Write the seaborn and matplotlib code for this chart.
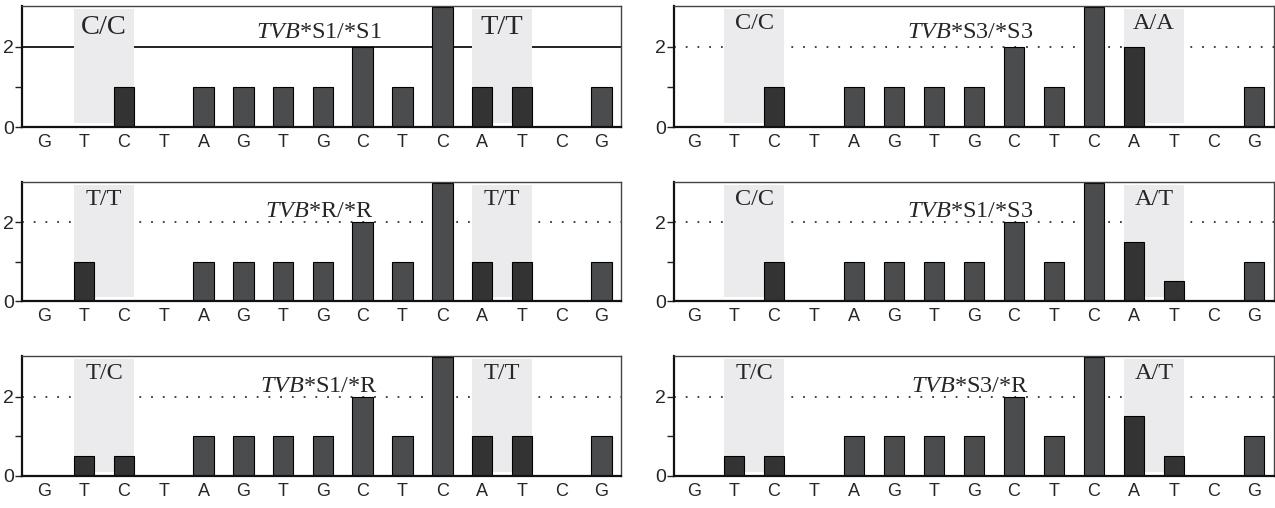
import matplotlib
matplotlib.use("Agg")
import matplotlib.pyplot as plt
import seaborn as sns
import pandas as pd

# ---------------- data ----------------
bases = ["G", "T", "C", "T", "A", "G", "T", "G", "C", "T", "C", "A", "T", "C", "G"]

genotypes = ["S1/*S1", "S3/*S3", "R/*R", "S1/*S3", "S1/*R", "S3/*R"]

s1_s1 = [0, 0, 1, 0, 1, 1, 1, 1, 2, 1, 3, 1, 1, 0, 1]
s3_s3 = [0, 0, 1, 0, 1, 1, 1, 1, 2, 1, 3, 2, 0, 0, 1]
r_r = [0, 1, 0, 0, 1, 1, 1, 1, 2, 1, 3, 1, 1, 0, 1]
s1_s3 = [0, 0, 1, 0, 1, 1, 1, 1, 2, 1, 3, 1.5, 0.5, 0, 1]
s1_r = [0, 0.5, 0.5, 0, 1, 1, 1, 1, 2, 1, 3, 1, 1, 0, 1]
s3_r = [0, 0.5, 0.5, 0, 1, 1, 1, 1, 2, 1, 3, 1.5, 0.5, 0, 1]

site1_labels = ["C/C", "C/C", "T/T", "C/C", "T/C", "T/C"]
site2_labels = ["T/T", "A/A", "T/T", "A/T", "T/T", "A/T"]

site1_pos = [1, 2]
site2_pos = [11, 12]

panel_values = [s1_s1, s3_s3, r_r, s1_s3, s1_r, s3_r]

# ---------------- style ----------------
sns.set_style("white")
plt.rcParams["font.family"] = ["Liberation Sans", "DejaVu Sans"]
plt.rcParams["mathtext.fontset"] = "custom"
plt.rcParams["mathtext.rm"] = "Liberation Serif"
plt.rcParams["mathtext.it"] = "Liberation Serif:italic"

DARK = "#333333"
MID = "#4b4c4e"
BAND = "#ebebed"
YMAX = 3.02

fig = plt.figure(figsize=(12.75, 5.08), dpi=100)

W, H = 1275, 508
col_x = [(22, 621), (674, 1274)]
row_y = [(6, 127), (182, 301), (356, 476)]
xlims = [(-0.56, 14.49), (-0.5, 14.5)]

band_idx = set(site1_pos + site2_pos)

for k, vals in enumerate(panel_values):
    r, c = divmod(k, 2)
    x0, x1 = col_x[c]
    y0, y1 = row_y[r]
    ax = fig.add_axes([x0 / W, 1 - y1 / H, (x1 - x0) / W, (y1 - y0) / H])

    df = pd.DataFrame({
        "pos": list(range(len(bases))),
        "val": vals,
        "grp": ["band" if i in band_idx else "plain" for i in range(len(bases))],
    })

    big = (k == 0)
    # reference line at 2
    if big:
        ax.axhline(2, color="#222222", lw=1.4, zorder=0)
    else:
        ax.axhline(2, color="#333333", lw=1.3, ls=(0, (1, 5.5)), zorder=0)

    # shaded SNP bands
    for span in (site1_pos, site2_pos):
        ax.axvspan(min(span) - 0.26, max(span) + 0.26,
                   ymin=0.09 / YMAX, ymax=2.94 / YMAX,
                   color=BAND, lw=0, zorder=1)

    sns.barplot(data=df, x="pos", y="val", hue="grp",
                palette={"band": DARK, "plain": MID},
                native_scale=True, dodge=False, width=0.52,
                edgecolor="black", linewidth=0.8, errorbar=None,
                legend=False, ax=ax)
    for p in ax.patches:
        p.set_zorder(2)

    ax.set_xlim(*xlims[c])
    ax.set_ylim(0, YMAX)
    ax.set_xlabel("")
    ax.set_ylabel("")

    ax.set_xticks(range(len(bases)))
    ax.set_xticklabels(bases, fontsize=13)
    ax.set_yticks([0, 1, 2])
    ax.set_yticklabels(["0", "", "2"], fontsize=14)
    ax.tick_params(axis="x", direction="inout", length=7, width=1.0,
                   color="#222222", pad=1.5)
    ax.tick_params(axis="y", direction="out", length=5, width=1.0,
                   color="#222222", pad=1, left=True)

    for side in ("left", "bottom"):
        ax.spines[side].set_color("#111111")
        ax.spines[side].set_linewidth(1.6)
    for side in ("top", "right"):
        ax.spines[side].set_color("#444444")
        ax.spines[side].set_linewidth(1.0)
    for s in ax.spines.values():
        s.set_zorder(5)

    lab_fs = 20.5 if big else 17.5
    lab_y = 2.33 if big else 2.44
    ax.text((site1_pos[0] + site1_pos[1]) / 2, lab_y, site1_labels[k],
            ha="center", va="baseline", fontsize=lab_fs,
            family="Liberation Serif", zorder=4)
    ax.text((site2_pos[0] + site2_pos[1]) / 2, lab_y, site2_labels[k],
            ha="center", va="baseline", fontsize=lab_fs,
            family="Liberation Serif", zorder=4)

    ax.text(6.9, 2.22 if r == 0 else 2.12, r"$\mathit{TVB}$*" + genotypes[k],
            ha="center", va="baseline", fontsize=17.5,
            family="Liberation Serif", zorder=4)

fig.savefig("out.png", dpi=100)
